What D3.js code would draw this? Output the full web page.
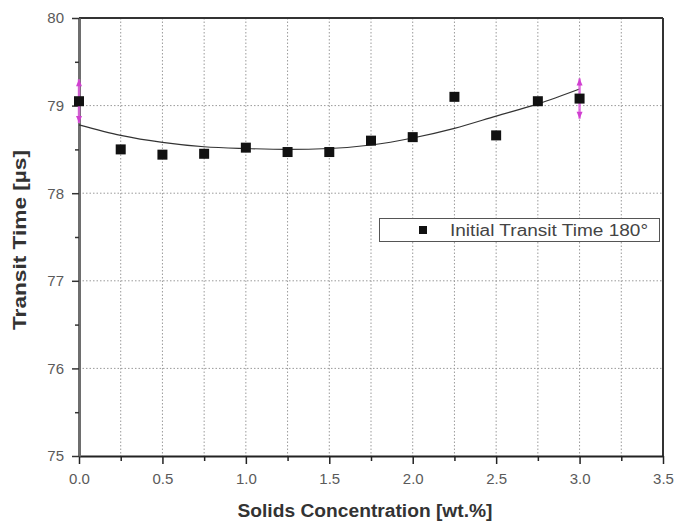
<!DOCTYPE html>
<html><head><meta charset="utf-8">
<script src="https://cdn.jsdelivr.net/npm/d3@7"></script>
<style>body{margin:0;background:#fff}svg{display:block}</style>
</head><body>
<script>
const concentrations = [0, 0.25, 0.5, 0.75, 1.0, 1.25, 1.5, 1.75, 2.0, 2.25, 2.5, 2.75, 3.0];
const transitTimes = [79.05, 78.50, 78.44, 78.45, 78.52, 78.47, 78.47, 78.60, 78.64, 79.10, 78.66, 79.05, 79.08];
const errorBars = [{x: 0, y: 79.05, err: 0.25}, {x: 3.0, y: 79.08, err: 0.23}];
const fitX = [0, 0.25, 0.5, 0.75, 1.0, 1.25, 1.5, 1.75, 2.0, 2.25, 2.5, 2.75, 3.0];
const fitY = [78.78, 78.66, 78.58, 78.53, 78.51, 78.50, 78.51, 78.55, 78.63, 78.74, 78.88, 79.02, 79.19];
const xTicks = [0, 0.5, 1.0, 1.5, 2.0, 2.5, 3.0, 3.5];
const xMinor = [0.25, 0.75, 1.25, 1.75, 2.25, 2.75, 3.25];
const yTicks = [75, 76, 77, 78, 79, 80];
const yMinor = [75.5, 76.5, 77.5, 78.5, 79.5];
const legendLabel = "Initial Transit Time 180°";

const W = 678, H = 522;
const L = 79, R = 663, T = 18, B = 456;
const svg = d3.select("body").append("svg").attr("width", W).attr("height", H);
const x = d3.scaleLinear().domain([0, 3.5]).range([L, R]);
const y = d3.scaleLinear().domain([75, 80]).range([B, T]);
const font = "'Liberation Sans', Arial, sans-serif";

// grid
const grid = svg.append("g").attr("stroke", "#9a9a9a").attr("stroke-width", 1).attr("stroke-dasharray", "1.5,2");
[...xTicks.slice(1, -1), ...xMinor].forEach(v => grid.append("line").attr("x1", x(v)).attr("x2", x(v)).attr("y1", T).attr("y2", B));
yTicks.slice(1, -1).forEach(v => grid.append("line").attr("y1", y(v)).attr("y2", y(v)).attr("x1", L).attr("x2", R));

// frame top/right
svg.append("line").attr("x1", L).attr("x2", R).attr("y1", T).attr("y2", T).attr("stroke", "#333").attr("stroke-width", 2);
svg.append("line").attr("x1", R).attr("x2", R).attr("y1", T).attr("y2", B).attr("stroke", "#333").attr("stroke-width", 2);

// x axis
const xAxis = svg.append("g").attr("transform", `translate(0,${B})`)
  .call(d3.axisBottom(x).tickValues(xTicks).tickFormat(d3.format(".1f")).tickSize(8).tickSizeOuter(0));
xAxis.select(".domain").attr("stroke", "#222").attr("stroke-width", 2);
xAxis.selectAll(".tick line").attr("stroke", "#222").attr("stroke-width", 1.5);
xAxis.selectAll("text").attr("font-family", font).attr("font-size", 15).attr("fill", "#5a5a5a")
  .attr("y", 0).attr("dy", 0).attr("transform", "translate(0,28)");
const xMinorG = svg.append("g").attr("transform", `translate(0,${B})`)
  .call(d3.axisBottom(x).tickValues(xMinor).tickFormat("").tickSize(5).tickSizeOuter(0));
xMinorG.select(".domain").remove();
xMinorG.selectAll(".tick line").attr("stroke", "#222").attr("stroke-width", 1.5);

// y axis
const yAxis = svg.append("g").attr("transform", `translate(${L},0)`)
  .call(d3.axisLeft(y).tickValues(yTicks).tickFormat(d3.format("d")).tickSize(7).tickSizeOuter(0));
yAxis.select(".domain").attr("stroke", "#6e6e6e").attr("stroke-width", 3);
yAxis.selectAll(".tick line").attr("stroke", "#333").attr("stroke-width", 1.5);
yAxis.selectAll("text").attr("font-family", font).attr("font-size", 15).attr("fill", "#5a5a5a").attr("x", -15);
const yMinorG = svg.append("g").attr("transform", `translate(${L},0)`)
  .call(d3.axisLeft(y).tickValues(yMinor).tickFormat("").tickSize(4).tickSizeOuter(0));
yMinorG.select(".domain").remove();
yMinorG.selectAll(".tick line").attr("stroke", "#333").attr("stroke-width", 1.5);

// fit curve
const fitData = fitX.map((v, i) => [v, fitY[i]]);
svg.append("path").datum(fitData)
  .attr("d", d3.line().x(d => x(d[0])).y(d => y(d[1])).curve(d3.curveMonotoneX))
  .attr("fill", "none").attr("stroke", "#333").attr("stroke-width", 1.2);

// error bars (magenta)
const eb = svg.append("g");
errorBars.forEach(e => {
  const cx = x(e.x), y1 = y(e.y + e.err), y2 = y(e.y - e.err);
  eb.append("line").attr("x1", cx).attr("x2", cx).attr("y1", y1).attr("y2", y2).attr("stroke", "#e060e0").attr("stroke-width", 2.5).attr("opacity", 0.85);
  eb.append("path").attr("d", `M${cx - 3},${y1 + 7}L${cx},${y1}L${cx + 3},${y1 + 7}Z`).attr("fill", "#d040d0");
  eb.append("path").attr("d", `M${cx - 3},${y2 - 7}L${cx},${y2}L${cx + 3},${y2 - 7}Z`).attr("fill", "#d040d0");
});

// points
const sz = 10;
svg.append("g").selectAll("rect").data(concentrations).join("rect")
  .attr("x", (d) => x(d) - sz / 2).attr("y", (d, i) => y(transitTimes[i]) - sz / 2)
  .attr("width", sz).attr("height", sz).attr("fill", "#111");

// legend
const lg = svg.append("g");
lg.append("rect").attr("x", 379.5).attr("y", 218.5).attr("width", 280).attr("height", 23)
  .attr("fill", "#fff").attr("stroke", "#555").attr("stroke-width", 1);
lg.append("rect").attr("x", 419).attr("y", 226).attr("width", 8).attr("height", 8).attr("fill", "#111");
lg.append("text").attr("x", 450).attr("y", 236).attr("font-family", font).attr("font-size", 16).attr("fill", "#444")
  .attr("textLength", 198).attr("lengthAdjust", "spacingAndGlyphs").text(legendLabel);

// axis titles
svg.append("text").attr("x", 365).attr("y", 517).attr("text-anchor", "middle")
  .attr("font-family", font).attr("font-size", 18).attr("font-weight", "bold").attr("fill", "#333")
  .attr("textLength", 255).attr("lengthAdjust", "spacingAndGlyphs")
  .text("Solids Concentration [wt.%]");
svg.append("text").attr("transform", `translate(26,${240}) rotate(-90)`).attr("text-anchor", "middle")
  .attr("font-family", font).attr("font-size", 18).attr("font-weight", "bold").attr("fill", "#333")
  .attr("textLength", 180).attr("lengthAdjust", "spacingAndGlyphs")
  .text("Transit Time [µs]");
</script>
</body></html>
